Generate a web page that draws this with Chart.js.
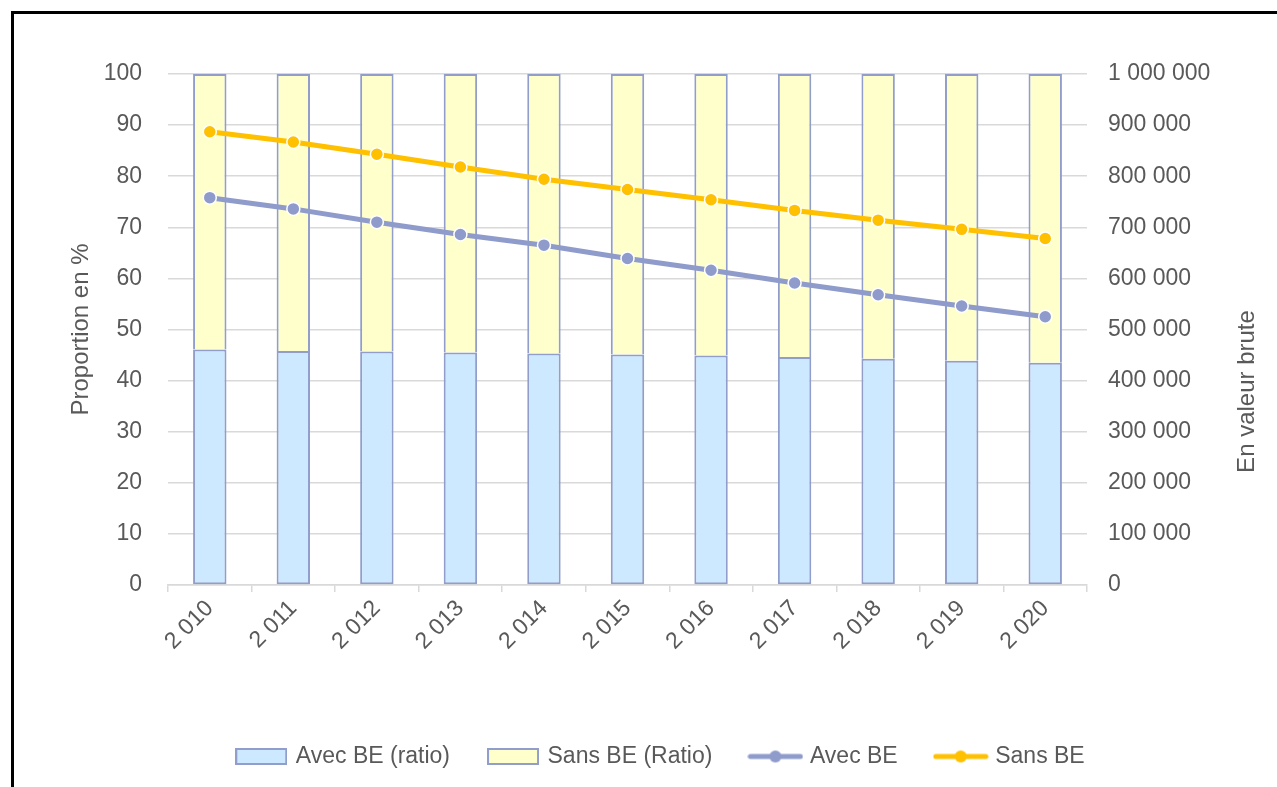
<!DOCTYPE html>
<html>
<head>
<meta charset="utf-8">
<script src="https://cdn.jsdelivr.net/npm/chart.js@4.4.1/dist/chart.umd.min.js"></script>
<style>
  html, body { margin: 0; padding: 0; background: #fff; overflow: hidden; }
  #wrap { position: relative; width: 1277px; height: 787px; }
  #frame { position: absolute; left: 11px; top: 11px; width: 1300px; height: 800px; border: 3px solid #000; box-sizing: border-box; }
  #myChart { position: absolute; left: 0; top: 0; }
</style>
</head>
<body>
<div id="wrap">
  <div id="frame"></div>
  <canvas id="myChart" width="1277" height="787"></canvas>
</div>
<script>
// data
const years = ['2 010', '2 011', '2 012', '2 013', '2 014', '2 015', '2 016', '2 017', '2 018', '2 019', '2 020'];
const avecRatio = [46.1, 45.8, 45.7, 45.5, 45.3, 45.1, 44.9, 44.6, 44.3, 43.9, 43.5];
const sansRatio = [53.9, 54.2, 54.3, 54.5, 54.7, 54.9, 55.1, 55.4, 55.7, 56.1, 56.5];
const avecBE = [758000, 736000, 710000, 686000, 665000, 639000, 616000, 591000, 568000, 546000, 525000];
const sansBE = [887000, 867000, 843000, 818000, 794000, 774000, 754000, 733000, 714000, 696000, 678000];
const seriesNames = ['Avec BE (ratio)', 'Sans BE (Ratio)', 'Avec BE', 'Sans BE'];
const leftTitle = 'Proportion en %';
const rightTitle = 'En valeur brute';

const txt = '#595959';
const grid = '#d9d9d9';
const barEdge = '#919dcb';
const blueFill = '#cce9ff';
const yellowFill = '#ffffcc';
const purple = '#8e9bcb';
const orange = '#ffc000';
const fam = '"Liberation Sans", Arial, sans-serif';

// legend icons (box for bars, line + dot for lines)
function barIcon(fill) {
  const c = document.createElement('canvas');
  c.width = 52; c.height = 17;
  const g = c.getContext('2d');
  g.fillStyle = fill;
  g.fillRect(1, 1, 50, 15);
  g.strokeStyle = barEdge;
  g.lineWidth = 2;
  g.strokeRect(1, 1, 50, 15);
  return c;
}
function lineIcon(col) {
  const c = document.createElement('canvas');
  c.width = 56; c.height = 16;
  const g = c.getContext('2d');
  g.strokeStyle = col;
  g.lineWidth = 5;
  g.lineCap = 'round';
  g.beginPath(); g.moveTo(3, 8); g.lineTo(53, 8); g.stroke();
  g.fillStyle = col;
  g.beginPath(); g.arc(28, 8, 6, 0, Math.PI * 2); g.fill();
  return c;
}
const legendIcons = [barIcon(blueFill), barIcon(yellowFill), lineIcon(purple), lineIcon(orange)];

const fmt = v => String(v).replace(/\B(?=(\d{3})+(?!\d))/g, ' ');

const rightTitlePlugin = {
  id: 'rightTitle',
  afterDraw(chart) {
    const ctx = chart.ctx;
    const ca = chart.chartArea;
    ctx.save();
    ctx.font = '24px ' + fam;
    ctx.fillStyle = txt;
    ctx.textAlign = 'center';
    ctx.textBaseline = 'middle';
    ctx.translate(chart.scales.y1.right - 13, (ca.top + ca.bottom) / 2 + 62);
    ctx.rotate(-Math.PI / 2);
    ctx.fillText(rightTitle, 0, 0);
    ctx.restore();
  }
};

const tickFont = { family: fam, size: 23 };

new Chart('myChart', {
  type: 'bar',
  data: {
    labels: years,
    datasets: [
      { label: seriesNames[0], data: avecRatio, yAxisID: 'y', backgroundColor: blueFill, borderColor: barEdge, borderWidth: 2, borderSkipped: false, order: 2 },
      { label: seriesNames[1], data: sansRatio, yAxisID: 'y', backgroundColor: yellowFill, borderColor: barEdge, borderWidth: 2, borderSkipped: 'bottom', order: 3 },
      { type: 'line', label: seriesNames[2], data: avecBE, yAxisID: 'y1', borderColor: purple, backgroundColor: purple, borderWidth: 5,
        pointRadius: 6.5, pointBorderColor: '#fff', pointBorderWidth: 1.5, pointBackgroundColor: purple, order: 1 },
      { type: 'line', label: seriesNames[3], data: sansBE, yAxisID: 'y1', borderColor: orange, backgroundColor: orange, borderWidth: 5,
        pointRadius: 6.5, pointBorderColor: '#fff', pointBorderWidth: 1.5, pointBackgroundColor: orange, order: 0 }
    ]
  },
  plugins: [rightTitlePlugin],
  options: {
    responsive: false,
    animation: false,
    datasets: { bar: { categoryPercentage: 1, barPercentage: 0.4 } },
    layout: { padding: { left: 63, right: 17, top: 74, bottom: 9 } },
    scales: {
      x: {
        stacked: true,
        grid: { drawOnChartArea: false, color: grid, tickLength: 7, offset: true, lineWidth: 1.5 },
        border: { color: grid, width: 1.5 },
        ticks: { minRotation: 45, maxRotation: 45, color: txt, font: tickFont, padding: 3 },
        afterFit: s => { s.height = 120; }
      },
      y: {
        stacked: true,
        min: 0, max: 100,
        grid: { color: grid, lineWidth: 1.5, drawTicks: false },
        border: { display: false },
        ticks: { stepSize: 10, color: txt, font: tickFont, padding: 26 },
        title: { display: true, text: leftTitle, color: txt, font: { family: fam, size: 24 } },
        afterFit: s => { s.width = 105; }
      },
      y1: {
        position: 'right',
        stacked: false,
        min: 0, max: 1000000,
        grid: { drawOnChartArea: false, drawTicks: false },
        border: { display: false },
        ticks: { stepSize: 100000, color: txt, font: tickFont, padding: 21, callback: v => fmt(v) },
        afterFit: s => { s.width = 173; }
      }
    },
    plugins: {
      tooltip: { enabled: false },
      legend: {
        position: 'bottom',
        labels: {
          usePointStyle: true,
          pointStyleWidth: 46,
          boxHeight: 16,
          padding: 40,
          color: txt,
          font: { family: fam, size: 23 },
          generateLabels(chart) {
            const items = Chart.defaults.plugins.legend.labels.generateLabels(chart);
            items.sort((a, b) => a.datasetIndex - b.datasetIndex);
            items.forEach(it => { it.pointStyle = legendIcons[it.datasetIndex]; });
            return items;
          }
        }
      }
    }
  }
});
</script>
</body>
</html>
